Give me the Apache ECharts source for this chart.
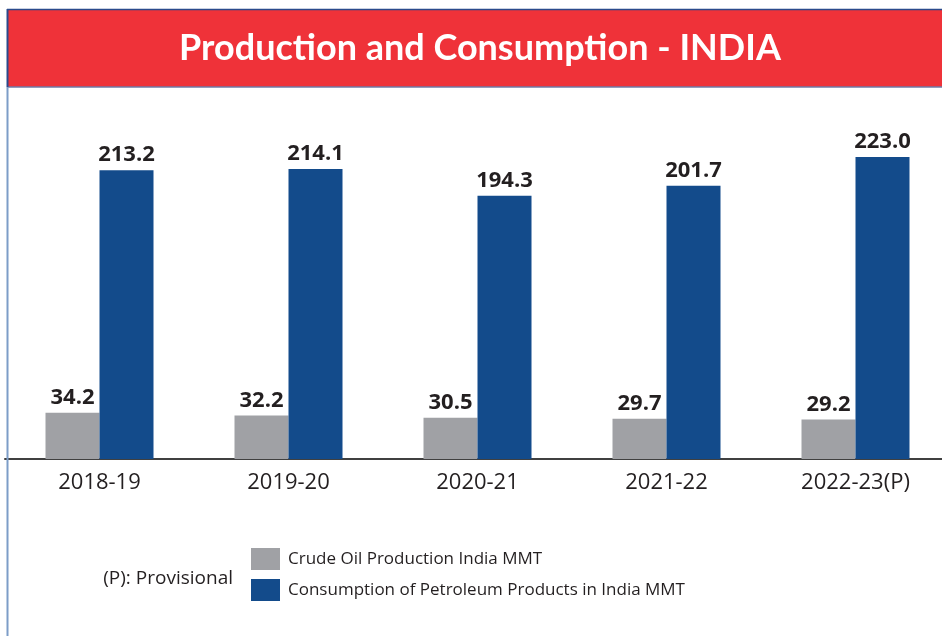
<!DOCTYPE html>
<html>
<head>
<meta charset="utf-8">
<script src="https://cdn.jsdelivr.net/npm/echarts@6/dist/echarts.min.js"></script>
<style>
  html, body { margin: 0; padding: 0; background: #ffffff; }
  #chart { width: 942px; height: 636px; }
</style>
</head>
<body>
<div id="chart"></div>
<script>
var titleText = 'Production and Consumption - INDIA';
var categories = ['2018-19', '2019-20', '2020-21', '2021-22', '2022-23(P)'];
var seriesNames = ['Crude Oil Production India MMT', 'Consumption of Petroleum Products in India MMT'];
var crudeProduction = [34.2, 32.2, 30.5, 29.7, 29.2];
var petroleumConsumption = [213.2, 214.1, 194.3, 201.7, 223.0];
var noteText = '(P): Provisional';

var chart = echarts.init(document.getElementById('chart'), null, { renderer: 'canvas' });

var labelStyle = {
  show: true,
  position: 'top',
  distance: 4,
  fontFamily: 'Open Sans',
  fontWeight: 'bold',
  fontSize: 22,
  color: '#231f20',
  formatter: function (p) { return p.value.toFixed(1); }
};

chart.setOption({
  animation: false,
  backgroundColor: '#ffffff',
  grid: { left: 5, width: 945, top: 100, bottom: 177, containLabel: false, outerBoundsMode: 'none' },
  xAxis: {
    type: 'category',
    data: categories,
    axisLine: { show: true, lineStyle: { color: '#404040', width: 2 } },
    axisTick: { show: false },
    axisLabel: { color: '#231f20', fontFamily: 'Open Sans', fontSize: 22, margin: 13 },
    splitLine: { show: false }
  },
  yAxis: {
    type: 'value',
    min: 0,
    max: 265,
    show: false,
    splitLine: { show: false }
  },
  legend: {
    orient: 'vertical',
    left: 251,
    top: 548,
    padding: 0,
    itemWidth: 29,
    itemHeight: 22,
    itemGap: 9,
    icon: 'rect',
    selectedMode: false,
    textStyle: { fontFamily: 'Open Sans', fontSize: 17, color: '#231f20', padding: [0, 0, 0, 3] },
    data: seriesNames
  },
  series: [
    {
      name: seriesNames[0],
      type: 'bar',
      data: crudeProduction,
      barWidth: 54,
      barGap: '0%',
      itemStyle: { color: '#a0a1a5' },
      label: labelStyle
    },
    {
      name: seriesNames[1],
      type: 'bar',
      data: petroleumConsumption,
      barWidth: 54,
      barGap: '0%',
      itemStyle: { color: '#134b8b' },
      label: labelStyle
    }
  ],
  graphic: [
    { type: 'rect', shape: { x: 7, y: 9, width: 940, height: 78 }, style: { fill: '#ef3239' }, z: 10 },
    { type: 'line', shape: { x1: 7, y1: 9.5, x2: 942, y2: 9.5 }, style: { stroke: '#2b4a8c', lineWidth: 1.5 }, z: 11 },
    { type: 'line', shape: { x1: 7, y1: 87, x2: 942, y2: 87 }, style: { stroke: '#6f7aa6', lineWidth: 1.5 }, z: 11 },
    { type: 'line', shape: { x1: 7.5, y1: 9, x2: 7.5, y2: 87 }, style: { stroke: '#2b4a8c', lineWidth: 2 }, z: 11 },
    { type: 'line', shape: { x1: 7.5, y1: 87, x2: 7.5, y2: 636 }, style: { stroke: '#7d9dc8', lineWidth: 2 }, z: 11 },
    {
      type: 'text', x: 480, y: 48, z: 12,
      style: {
        text: titleText, fill: '#ffffff', fontFamily: 'Lato', fontWeight: 'bold', fontSize: 36,
        align: 'center', verticalAlign: 'middle'
      }
    },
    {
      type: 'text', x: 233, y: 579, z: 12,
      style: {
        text: noteText, fill: '#231f20', fontFamily: 'Open Sans', fontSize: 19,
        align: 'right', verticalAlign: 'middle'
      }
    }
  ]
});
</script>
</body>
</html>
